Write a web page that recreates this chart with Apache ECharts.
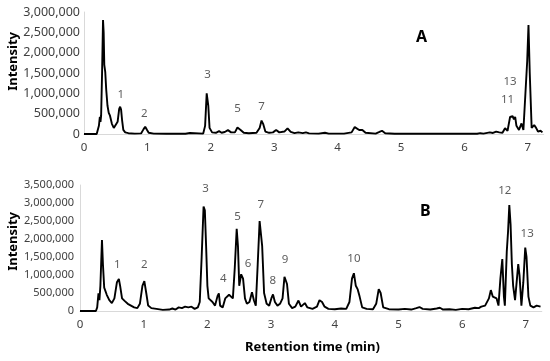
<!DOCTYPE html>
<html>
<head>
<meta charset="utf-8">
<script src="https://cdn.jsdelivr.net/npm/echarts@6/dist/echarts.min.js"></script>
<style>
html,body{margin:0;padding:0;background:#fff;}
#chart{width:550px;height:361px;}
</style>
</head>
<body>
<div id="chart"></div>
<script>
// Chromatogram A (retention time in min, intensity)
const timeA = [0,0.20,0.22,0.235,0.25,0.26,0.27,0.285,0.30,0.31,0.32,0.335,0.35,0.37,0.39,0.41,0.44,0.47,0.50,0.53,0.555,0.57,0.585,0.60,0.62,0.65,0.70,0.80,0.90,0.94,0.965,0.99,1.02,1.1,1.3,1.6,1.63,1.67,1.70,1.88,1.91,1.935,1.945,1.96,1.98,2.02,2.08,2.13,2.17,2.22,2.27,2.32,2.38,2.42,2.445,2.47,2.52,2.60,2.72,2.77,2.80,2.825,2.86,2.92,2.98,3.03,3.08,3.16,3.21,3.26,3.32,3.38,3.41,3.45,3.50,3.55,3.7,3.80,3.86,4.1,4.22,4.27,4.30,4.34,4.39,4.44,4.6,4.66,4.70,4.75,4.9,5.6,5.63,5.66,6.2,6.25,6.3,6.4,6.45,6.5,6.55,6.6,6.64,6.68,6.72,6.74,6.76,6.78,6.80,6.82,6.86,6.90,6.93,6.96,6.99,7.01,7.03,7.06,7.10,7.13,7.16,7.20,7.23];
const intensityA = [0,0,10000,200000,420000,300000,450000,1500000,2800000,2500000,1700000,1530000,1100000,700000,520000,450000,250000,150000,120000,300000,620000,670000,600000,350000,100000,40000,20000,10000,15000,120000,180000,110000,30000,10000,5000,5000,25000,25000,5000,10000,200000,1000000,1040000,700000,150000,40000,30000,70000,30000,50000,95000,40000,40000,160000,205000,100000,30000,20000,30000,150000,330000,250000,60000,30000,40000,100000,40000,60000,140000,50000,20000,40000,60000,20000,40000,15000,10000,30000,10000,10000,40000,170000,180000,100000,100000,30000,10000,50000,80000,20000,5000,5000,20000,5000,5000,20000,10000,40000,25000,60000,40000,30000,140000,80000,420000,380000,440000,360000,420000,200000,100000,260000,100000,60000,1800000,2680000,1500000,150000,220000,150000,60000,80000,40000];

// Chromatogram B
const timeB = [0,0.25,0.27,0.29,0.305,0.32,0.345,0.36,0.38,0.42,0.46,0.50,0.54,0.58,0.61,0.63,0.66,0.70,0.75,0.80,0.85,0.90,0.94,0.98,1.01,1.04,1.07,1.12,1.2,1.3,1.4,1.45,1.5,1.55,1.6,1.65,1.7,1.75,1.8,1.85,1.88,1.91,1.94,1.96,1.98,2.0,2.02,2.05,2.08,2.12,2.16,2.18,2.20,2.24,2.28,2.30,2.34,2.37,2.40,2.43,2.46,2.48,2.50,2.53,2.56,2.59,2.62,2.66,2.70,2.73,2.76,2.79,2.82,2.84,2.86,2.89,2.93,2.97,3.01,3.03,3.06,3.10,3.14,3.18,3.21,3.23,3.25,3.28,3.33,3.38,3.43,3.47,3.53,3.57,3.65,3.72,3.76,3.80,3.84,3.9,4.0,4.1,4.18,4.23,4.27,4.30,4.33,4.36,4.39,4.43,4.5,4.6,4.65,4.69,4.72,4.76,4.85,5.0,5.1,5.2,5.28,5.33,5.38,5.5,5.6,5.65,5.7,5.8,5.9,6.0,6.1,6.2,6.26,6.3,6.36,6.42,6.45,6.48,6.51,6.54,6.57,6.60,6.63,6.655,6.67,6.70,6.72,6.74,6.76,6.78,6.80,6.83,6.86,6.88,6.90,6.93,6.96,6.99,7.01,7.04,7.07,7.12,7.17,7.20,7.23];
const intensityB = [0,0,100000,490000,300000,700000,1970000,1300000,650000,450000,300000,220000,350000,800000,890000,700000,350000,280000,200000,150000,100000,80000,200000,700000,830000,500000,150000,80000,60000,30000,40000,70000,40000,100000,80000,120000,100000,120000,60000,100000,250000,1500000,2900000,2800000,1800000,700000,350000,400000,250000,150000,420000,490000,150000,100000,350000,300000,450000,500000,350000,1200000,2280000,1800000,700000,1020000,900000,350000,200000,250000,520000,300000,150000,1300000,2500000,2550000,1800000,500000,200000,150000,380000,460000,250000,150000,200000,350000,950000,1000000,750000,200000,80000,120000,290000,120000,220000,100000,60000,120000,300000,250000,120000,60000,50000,70000,60000,250000,900000,1050000,700000,600000,400000,100000,60000,50000,200000,610000,500000,100000,50000,40000,60000,40000,80000,110000,60000,40000,70000,90000,40000,50000,30000,60000,50000,90000,80000,120000,150000,350000,580000,400000,380000,350000,150000,900000,1440000,400000,150000,1650000,2200000,2940000,2400000,1300000,700000,300000,900000,1300000,1000000,150000,800000,1760000,1500000,400000,150000,100000,150000,100000,120000];

// Peak labels (name, time, intensity at label)
const peakNamesA = ['1','2','3','5','7','11','13'];
const peakTimesA = [0.58,0.95,1.95,2.42,2.80,6.68,6.72];
const peakLevelsA = [976000,509000,1450000,632000,671000,836000,1290000];

const peakNamesB = ['1','2','3','4','5','6','7','8','9','10','12','13'];
const peakTimesB = [0.585,1.01,1.97,2.25,2.475,2.64,2.84,3.025,3.22,4.30,6.67,7.02];
const peakLevelsB = [1280000,1280000,3410000,908000,2620000,1320000,2960000,833000,1420000,1460000,3330000,2160000];

const xTicks = [0,1,2,3,4,5,6,7];
const yMaxA = 3000000, yMaxB = 3500000, yStep = 500000;

const zipPts = (t, v) => t.map((x, i) => [x, v[i]]);
const zipLbl = (n, t, v) => n.map((s, i) => ({ value: [t[i], v[i]], name: s }));

const fmt = v => v.toLocaleString('en-US');
const axisColor = '#d9d9d9';
const textColor = '#404040';
const font = 'Noto Sans';

function xAxis(idx) {
  return {
    type: 'value', gridIndex: idx, min: 0, max: 7.25, interval: 1,
    axisLine: { show: true, lineStyle: { color: axisColor } },
    axisTick: { show: false }, splitLine: { show: false },
    axisLabel: { color: textColor, fontSize: 11.5, fontFamily: font, margin: 8,
      formatter: v => xTicks.includes(v) ? String(v) : '' }
  };
}
function yAxis(idx, max) {
  return {
    type: 'value', gridIndex: idx, min: 0, max: max, interval: yStep,
    axisLine: { show: true, lineStyle: { color: axisColor } },
    axisTick: { show: false }, splitLine: { show: false },
    axisLabel: { color: textColor, fontSize: idx === 0 ? 12.5 : 11, fontFamily: font, margin: idx === 0 ? 4 : 6, formatter: fmt }
  };
}
const lineStyle = { color: '#000', width: 1.9 };
const lblStyle = { show: true, position: 'inside', formatter: p => p.name, color: '#333', fontSize: 11.5, fontFamily: font };

const chart = echarts.init(document.getElementById('chart'), null, { renderer: 'canvas' });
chart.setOption({
  animation: false,
  backgroundColor: '#fff',
  grid: [
    { left: 84, top: 12, width: 459.7, height: 122 },
    { left: 80, top: 185, width: 461.8, height: 126 }
  ],
  xAxis: [xAxis(0), xAxis(1)],
  yAxis: [yAxis(0, yMaxA), yAxis(1, yMaxB)],
  series: [
    { type: 'line', xAxisIndex: 0, yAxisIndex: 0, data: zipPts(timeA, intensityA), showSymbol: false, lineStyle, z: 3 },
    { type: 'line', xAxisIndex: 1, yAxisIndex: 1, data: zipPts(timeB, intensityB), showSymbol: false, lineStyle, z: 3 },
    { type: 'scatter', xAxisIndex: 0, yAxisIndex: 0, symbolSize: 0, data: zipLbl(peakNamesA, peakTimesA, peakLevelsA), label: lblStyle, silent: true },
    { type: 'scatter', xAxisIndex: 1, yAxisIndex: 1, symbolSize: 0, data: zipLbl(peakNamesB, peakTimesB, peakLevelsB), label: lblStyle, silent: true }
  ],
  graphic: [
    { type: 'text', style: { text: 'Intensity', font: 'bold 13px "Noto Sans"', fill: '#000' }, rotation: Math.PI / 2, left: 7, top: 32 },
    { type: 'text', style: { text: 'Intensity', font: 'bold 13px "Noto Sans"', fill: '#000' }, rotation: Math.PI / 2, left: 7, top: 212 },
    { type: 'text', style: { text: 'A', font: 'bold 16px "Noto Sans"', fill: '#000' }, left: 416, top: 29 },
    { type: 'text', style: { text: 'B', font: 'bold 16px "Noto Sans"', fill: '#000' }, left: 420, top: 203 },
    { type: 'text', style: { text: 'Retention time (min)', font: 'bold 13px "Noto Sans"', fill: '#000' }, left: 245, top: 341 }
  ]
});
</script>
</body>
</html>
